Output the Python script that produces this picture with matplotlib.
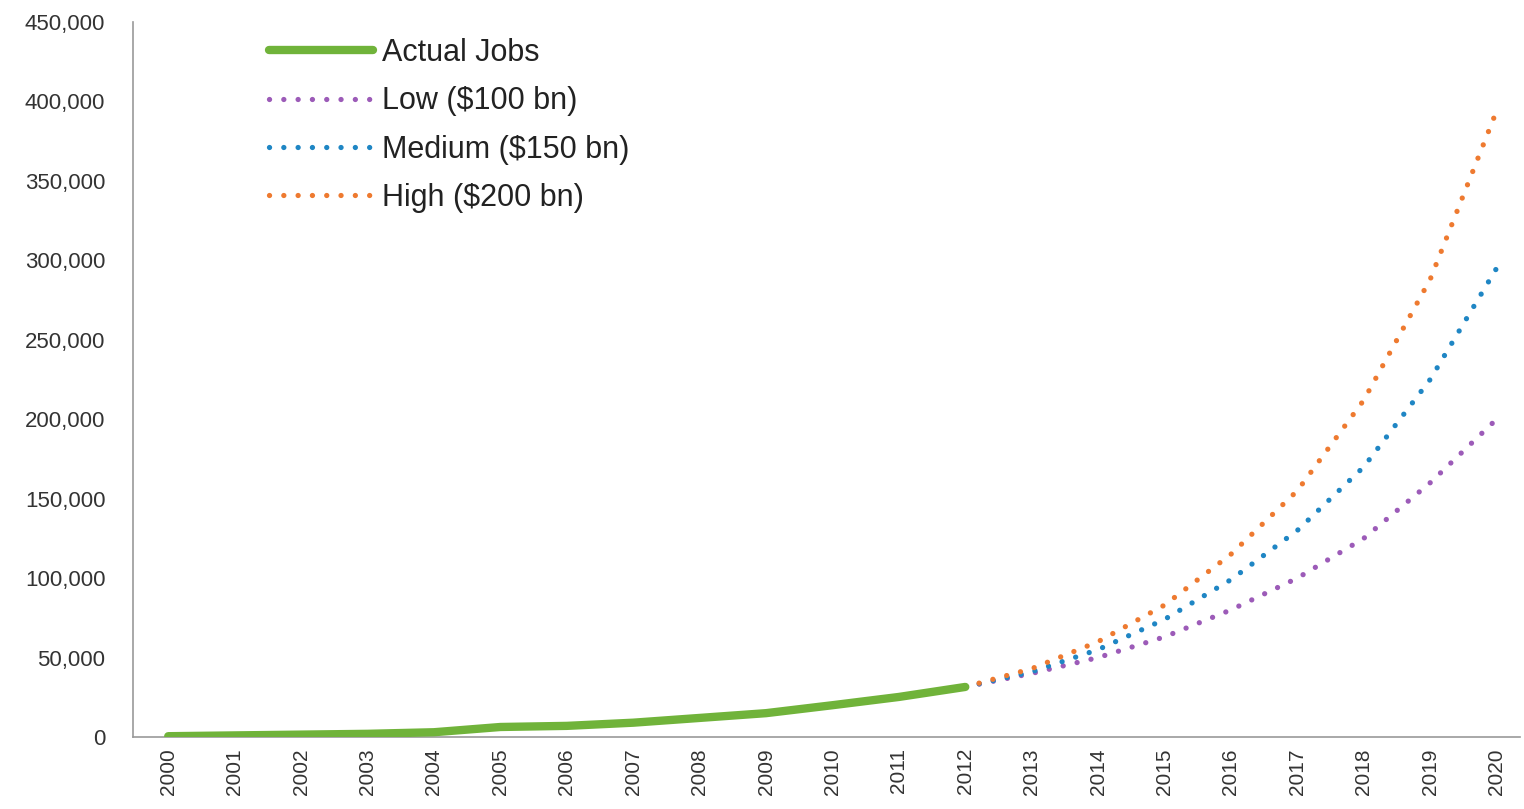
import numpy as np
import matplotlib
matplotlib.use("Agg")
import matplotlib.pyplot as plt
from matplotlib.ticker import FuncFormatter

# data ---------------------------------------------------------------------
years_actual = [2000, 2001, 2002, 2003, 2004, 2005, 2006, 2007, 2008, 2009, 2010, 2011, 2012]
actual_jobs  = [500, 1000, 1500, 2000, 3000, 6300, 7000, 9000, 12000, 15000, 20000, 25200, 31500]

years_proj = [2012, 2013, 2014, 2015, 2016, 2017, 2018, 2019, 2020]
low    = [31500, 40000, 50000, 63000, 80000, 100000, 125000, 160000, 200000]
medium = [31500, 41000, 55000, 74000, 99000, 130000, 170000, 225000, 295000]
high   = [31500, 43000, 60000, 83000, 115000, 155000, 212000, 288000, 394000]

all_years = list(range(2000, 2021))

plt.rcParams['font.family'] = ['Liberation Sans', 'DejaVu Sans']

fig = plt.figure(figsize=(15.24, 8.09), dpi=100)
ax = fig.add_axes([0.0873, 0.089, 0.91, 0.884])

dot = dict(linewidth=3.8, linestyle=(0, (0.01, 2.7)), dash_capstyle='round')
ax.plot(years_actual, actual_jobs, color='#70B33A', linewidth=6, solid_capstyle='round', label='Actual Jobs', zorder=4)
ax.plot(years_proj, low, color='#9C5BB8', label='Low ($100 bn)', **dot)
ax.plot(years_proj, medium, color='#1F86C4', label='Medium ($150 bn)', **dot)
ax.plot(years_proj, high, color='#EE7A30', label='High ($200 bn)', **dot)

ax.set_xlim(1999.47, 2020.35)
ax.set_ylim(0, 450000)
ax.set_xticks(all_years)
ax.set_xticklabels([str(y) for y in all_years], rotation=90, fontsize=15, color='#333333')
ax.set_yticks(np.arange(0, 450001, 50000))
ax.yaxis.set_major_formatter(FuncFormatter(lambda v, p: f"{int(v):,}"))
ax.tick_params(axis='y', labelsize=16, labelcolor='#333333', length=0, pad=20)
ax.tick_params(axis='x', length=0, pad=8)

for s in ['top', 'right']:
    ax.spines[s].set_visible(False)
for s in ['left', 'bottom']:
    ax.spines[s].set_color('#999999')
    ax.spines[s].set_linewidth(1.2)

leg = ax.legend(loc='upper left', bbox_to_anchor=(0.078, 1.016), frameon=False, fontsize=22,
                handlelength=3.4, handletextpad=0.3, labelspacing=0.6, labelcolor='#222222')

fig.savefig("out.png", dpi=100)
